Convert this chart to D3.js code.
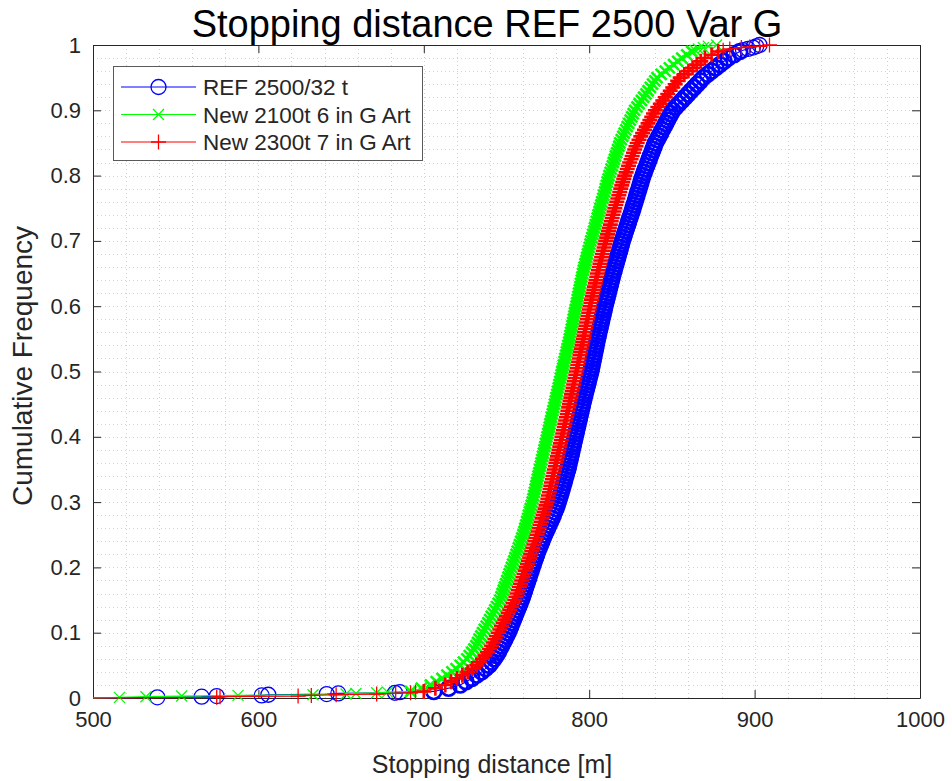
<!DOCTYPE html>
<html>
<head>
<meta charset="utf-8">
<title>Stopping distance REF 2500 Var G</title>
<script src="https://cdn.jsdelivr.net/npm/d3@7/dist/d3.min.js"></script>
<style>
  body { margin: 0; background: #fff; }
  svg text { font-family: "Liberation Sans", Arial, Helvetica, sans-serif; fill: #262626; }
</style>
</head>
<body>
<svg id="chart" width="952" height="781"></svg>
<script>
// cumulative frequency levels of the main body of every curve
const freqLevels = [
  .010,.015,.020,.025,.030,.035,.040,.045,.050,.055,
  .060,.065,.070,.075,.080,.085,.090,.095,.100,.105,
  .110,.115,.120,.125,.130,.135,.140,.145,.150,.155,
  .160,.165,.170,.175,.180,.185,.190,.195,.200,.205,
  .210,.215,.220,.225,.230,.235,.240,.245,.250,.255,
  .260,.265,.270,.275,.280,.285,.290,.295,.300,.305,
  .310,.315,.320,.325,.330,.335,.340,.345,.350,.355,
  .360,.365,.370,.375,.380,.385,.390,.395,.400,.405,
  .410,.415,.420,.425,.430,.435,.440,.445,.450,.455,
  .460,.465,.470,.475,.480,.485,.490,.495,.500,.505,
  .510,.515,.520,.525,.530,.535,.540,.545,.550,.555,
  .560,.565,.570,.575,.580,.585,.590,.595,.600,.605,
  .610,.615,.620,.625,.630,.635,.640,.645,.650,.655,
  .660,.665,.670,.675,.680,.685,.690,.695,.700,.705,
  .710,.715,.720,.725,.730,.735,.740,.745,.750,.755,
  .760,.765,.770,.775,.780,.785,.790,.795,.800,.805,
  .810,.815,.820,.825,.830,.835,.840,.845,.850,.855,
  .860,.865,.870,.875,.880,.885,.890,.895,.900,.905,
  .910,.915,.920,.925,.930,.935,.940,.945,.950,.955,
  .960,.965,.970,.975,.980,.985,.990
];

// stopping distance [m] at each level above
const refDist = [
  706,715,722,725.5,729,732,735,737.3,739.5,741,
  742.5,743.8,745,746,747,748,749,750,751,751.8,
  752.6,753.4,754.2,755,755.8,756.6,757.4,758.2,759,759.7,
  760.3,761,761.6,762.3,762.9,763.6,764.2,764.9,765.5,766.2,
  766.9,767.6,768.3,769,769.8,770.6,771.4,772.2,773,773.9,
  774.8,775.7,776.6,777.5,778.3,779.1,779.9,780.6,781.3,781.9,
  782.5,783.1,783.7,784.2,784.8,785.3,785.9,786.4,787,787.5,
  787.9,788.4,788.8,789.3,789.7,790.2,790.6,791.1,791.5,792,
  792.4,792.9,793.3,793.8,794.2,794.7,795.1,795.6,796,796.5,
  797,797.5,798,798.5,799,799.5,800,800.5,801,801.4,
  801.8,802.2,802.6,803,803.4,803.8,804.2,804.6,805,805.5,
  805.9,806.4,806.8,807.3,807.7,808.2,808.6,809.1,809.5,810,
  810.5,811,811.5,812,812.5,813,813.5,814,814.5,815.1,
  815.6,816.2,816.7,817.3,817.8,818.4,818.9,819.5,820,820.7,
  821.3,822,822.6,823.3,823.9,824.6,825.2,825.9,826.5,827.1,
  827.7,828.3,828.9,829.5,830.1,830.7,831.3,831.9,832.5,833.3,
  834,834.8,835.5,836.3,837,837.8,838.5,839.3,840,841.1,
  842.1,843.2,844.2,845.3,846.3,847.4,848.4,849.5,850.5,852.4,
  854.2,856.1,857.9,859.8,861.6,863.5,865.3,867.2,869,871.5,
  874,876.5,879,881.5,884,887.5,891
];
const new2100Dist = [
  692,698.5,704,707.5,711,714,717,719.5,722,724,
  726,727.5,729,730.3,731.5,732.5,733.5,734.5,735.5,736.6,
  737.7,738.8,739.8,740.8,741.9,742.9,744,745,746,746.7,
  747.4,748.1,748.8,749.5,750.2,750.9,751.6,752.3,753,753.7,
  754.4,755.1,755.8,756.5,757.2,757.9,758.6,759.3,760,760.6,
  761.1,761.7,762.2,762.8,763.3,763.9,764.4,765,765.5,766,
  766.4,766.9,767.3,767.8,768.2,768.7,769.1,769.6,770,770.5,
  770.9,771.4,771.8,772.3,772.7,773.2,773.6,774.1,774.5,775,
  775.4,775.9,776.3,776.8,777.2,777.7,778.1,778.6,779,779.5,
  779.9,780.4,780.8,781.3,781.7,782.2,782.6,783.1,783.5,784,
  784.4,784.9,785.3,785.8,786.2,786.7,787.1,787.6,788,788.4,
  788.8,789.2,789.6,790,790.4,790.8,791.2,791.6,792,792.4,
  792.8,793.2,793.6,794,794.4,794.8,795.2,795.6,796,796.5,
  797,797.5,798,798.5,799,799.5,800,800.5,801,801.6,
  802.1,802.7,803.2,803.8,804.3,804.9,805.4,806,806.5,807.1,
  807.6,808.2,808.7,809.3,809.8,810.4,810.9,811.5,812,812.7,
  813.3,814,814.6,815.3,815.9,816.6,817.2,817.9,818.5,819.4,
  820.3,821.2,822.1,823,823.9,824.8,825.7,826.6,827.5,828.9,
  830.2,831.6,832.9,834.3,835.6,837,838.3,839.7,841,843.5,
  846,848.5,851,853.5,856,859,862
];
const new2300Dist = [
  700,707,713,716.5,720,723.3,726.5,729.3,732,733.8,
  735.5,737,738.5,739.8,741,742,743,744,745,746,
  747,748,749,750,751,752,753,754,755,755.7,
  756.4,757.1,757.8,758.5,759.2,759.9,760.6,761.3,762,762.7,
  763.3,764,764.6,765.3,765.9,766.6,767.2,767.9,768.5,769.1,
  769.7,770.3,770.9,771.5,772.1,772.7,773.3,773.9,774.5,775,
  775.4,775.9,776.3,776.8,777.2,777.7,778.1,778.6,779,779.5,
  779.9,780.4,780.8,781.3,781.7,782.2,782.6,783.1,783.5,784,
  784.4,784.9,785.3,785.8,786.2,786.7,787.1,787.6,788,788.4,
  788.9,789.3,789.7,790.2,790.6,791,791.4,791.9,792.3,792.7,
  793.1,793.6,794,794.4,794.8,795.2,795.7,796.1,796.5,796.9,
  797.3,797.7,798.1,798.5,798.9,799.3,799.7,800.1,800.5,801,
  801.4,801.9,802.3,802.8,803.2,803.7,804.1,804.6,805,805.5,
  806,806.5,807,807.5,808,808.5,809,809.5,810,810.6,
  811.1,811.7,812.2,812.8,813.3,813.9,814.4,815,815.5,816.1,
  816.7,817.3,817.9,818.5,819.1,819.7,820.3,820.9,821.5,822.3,
  823,823.8,824.5,825.3,826,826.8,827.5,828.3,829,830.1,
  831.2,832.3,833.4,834.5,835.6,836.7,837.8,838.9,840,841.5,
  843,844.5,846,847.5,849,850.5,852,853.5,855,857.5,
  860,862.5,865,867.5,870,874,878
];

// single samples in the tails: [distance, cumulative frequency]
const refLow = [[538.9,.001],[565.7,.002],[574.8,.003],[602,.004],[606,.005],[641.3,.006],[648.3,.007],[682.6,.008],[685.5,.009]];
const refHigh = [[893,.992],[896,.994],[899,.996],[901,.998],[903,1]];
const new2100Low = [[516,.001],[532,.002],[553.6,.003],[587.7,.004],[633,.005],[653,.006],[659,.007],[671.5,.008],[678,.009]];
const new2100High = [[864,.992],[866,.994],[869,.996],[872,.998],[877,1]];
const new2300Low = [[574.8,.001],[576.8,.002],[624,.003],[632,.004],[647,.005],[671.5,.006],[683,.007],[692,.008],[695,.009]];
const new2300High = [[881,.992],[885,.994],[892,.996],[897,.997],[903,.998],[909,1]];

const seriesNames = ["REF 2500/32 t", "New 2100t 6 in G Art", "New 2300t 7 in G Art"];
const xTicks = [500, 600, 700, 800, 900, 1000];
const yTicks = [0, 0.1, 0.2, 0.3, 0.4, 0.5, 0.6, 0.7, 0.8, 0.9, 1];

// dense body points get a heavier stroke so the band reads as solid
function buildSeries(low, body, high) {
  return low.map(p => ({ d: p[0], f: p[1], tail: true }))
    .concat(body.map((d, i) => ({ d: d, f: freqLevels[i], tail: false })))
    .concat(high.map(p => ({ d: p[0], f: p[1], tail: true })));
}

const series = [
  { name: seriesNames[0], color: "#0000ff", marker: "circle", pts: buildSeries(refLow, refDist, refHigh) },
  { name: seriesNames[1], color: "#00ff00", marker: "cross", pts: buildSeries(new2100Low, new2100Dist, new2100High) },
  { name: seriesNames[2], color: "#ff0000", marker: "plus", pts: buildSeries(new2300Low, new2300Dist, new2300High) }
];

const svg = d3.select("#chart");
const plotL = 93, plotR = 920, plotT = 45, plotB = 698;

const x = d3.scaleLinear().domain([500, 1000]).range([plotL, plotR]);
const y = d3.scaleLinear().domain([0, 1]).range([plotB, plotT]);

// dotted grid (major + minor)
const grid = svg.append("g").attr("stroke", "#d2d2d2").attr("stroke-width", 1)
  .attr("stroke-dasharray", "1,3");
grid.selectAll("line.gx").data(x.ticks(25).slice(1, -1)).join("line")
  .attr("class", "gx")
  .attr("x1", d => Math.round(x(d)) + 0.5).attr("x2", d => Math.round(x(d)) + 0.5)
  .attr("y1", plotT).attr("y2", plotB);
grid.selectAll("line.gy").data(y.ticks(50).slice(1, -1)).join("line")
  .attr("class", "gy")
  .attr("y1", d => Math.round(y(d)) + 0.5).attr("y2", d => Math.round(y(d)) + 0.5)
  .attr("x1", plotL).attr("x2", plotR);

// axes, ticks inside
const fmtY = d => (d === 0 || d === 1) ? String(d) : d.toFixed(1);
const axisStyle = g => {
  g.selectAll("path, line").attr("stroke", "#262626");
  g.selectAll("text").attr("fill", "#262626").style("font-size", "22px")
    .style("font-family", '"Liberation Sans", Arial, sans-serif');
};
svg.append("g").attr("transform", `translate(0,${plotB})`)
  .call(d3.axisBottom(x).tickValues(xTicks).tickSize(-8).tickSizeOuter(0).tickPadding(13).tickFormat(d3.format("d")))
  .call(axisStyle);
svg.append("g").attr("transform", `translate(0,${plotT})`)
  .call(d3.axisTop(x).tickValues(xTicks).tickSize(-8).tickSizeOuter(0).tickFormat(""))
  .call(axisStyle);
svg.append("g").attr("transform", `translate(${plotL},0)`)
  .call(d3.axisLeft(y).tickValues(yTicks).tickSize(-8).tickSizeOuter(0).tickPadding(12).tickFormat(fmtY))
  .call(axisStyle);
svg.append("g").attr("transform", `translate(${plotR},0)`)
  .call(d3.axisRight(y).tickValues(yTicks).tickSize(-8).tickSizeOuter(0).tickFormat(""))
  .call(axisStyle);

// markers
const markerPath = {
  cross: "M-5.5,-5.5L5.5,5.5M-5.5,5.5L5.5,-5.5",
  plus: "M-7.5,0L7.5,0M0,-7.5L0,7.5"
};
function drawMarker(sel, s, w) {
  if (s.marker === "circle") {
    sel.append("circle").attr("r", 7.5).attr("fill", "none")
      .attr("stroke", s.color).attr("stroke-width", w);
  } else {
    sel.append("path").attr("d", markerPath[s.marker]).attr("fill", "none")
      .attr("stroke", s.color).attr("stroke-width", w);
  }
}

const line = d3.line().x(p => x(p.d)).y(p => y(p.f));

series.forEach(s => {
  const g = svg.append("g");
  g.append("path")
    .datum([{ d: x.domain()[0], f: 0 }].concat(s.pts))
    .attr("d", line).attr("fill", "none")
    .attr("stroke", s.color).attr("stroke-width", 1.2);
  g.selectAll("g.m").data(s.pts).join("g")
    .attr("class", "m")
    .attr("transform", p => `translate(${x(p.d)},${y(p.f)})`)
    .each(function (p) { drawMarker(d3.select(this), s, p.tail ? 1.3 : 2.6); });
});

// legend
const lg = svg.append("g").attr("transform", "translate(113,66)");
lg.append("rect").attr("x", 0.5).attr("y", 0.5).attr("width", 309).attr("height", 94)
  .attr("fill", "#fff").attr("stroke", "#5a5a5a").attr("stroke-width", 1);
series.forEach((s, i) => {
  const cy = 21 + i * 27.5;
  lg.append("line").attr("x1", 8).attr("x2", 83).attr("y1", cy).attr("y2", cy)
    .attr("stroke", s.color).attr("stroke-width", 1.2);
  const m = lg.append("g").attr("transform", `translate(45.5,${cy})`);
  drawMarker(m, s, 1.3);
  lg.append("text").attr("x", 90).attr("y", cy + 8)
    .style("font-size", "22.5px").text(s.name);
});

// title and labels
svg.append("text").attr("x", 487).attr("y", 37).attr("text-anchor", "middle")
  .style("font-size", "38px").style("fill", "#000").text("Stopping distance REF 2500 Var G");
svg.append("text").attr("x", 492).attr("y", 773).attr("text-anchor", "middle")
  .style("font-size", "25px").text("Stopping distance [m]");
svg.append("text").attr("transform", "translate(32,366) rotate(-90)").attr("text-anchor", "middle")
  .style("font-size", "28px").text("Cumulative Frequency");
</script>
</body>
</html>
